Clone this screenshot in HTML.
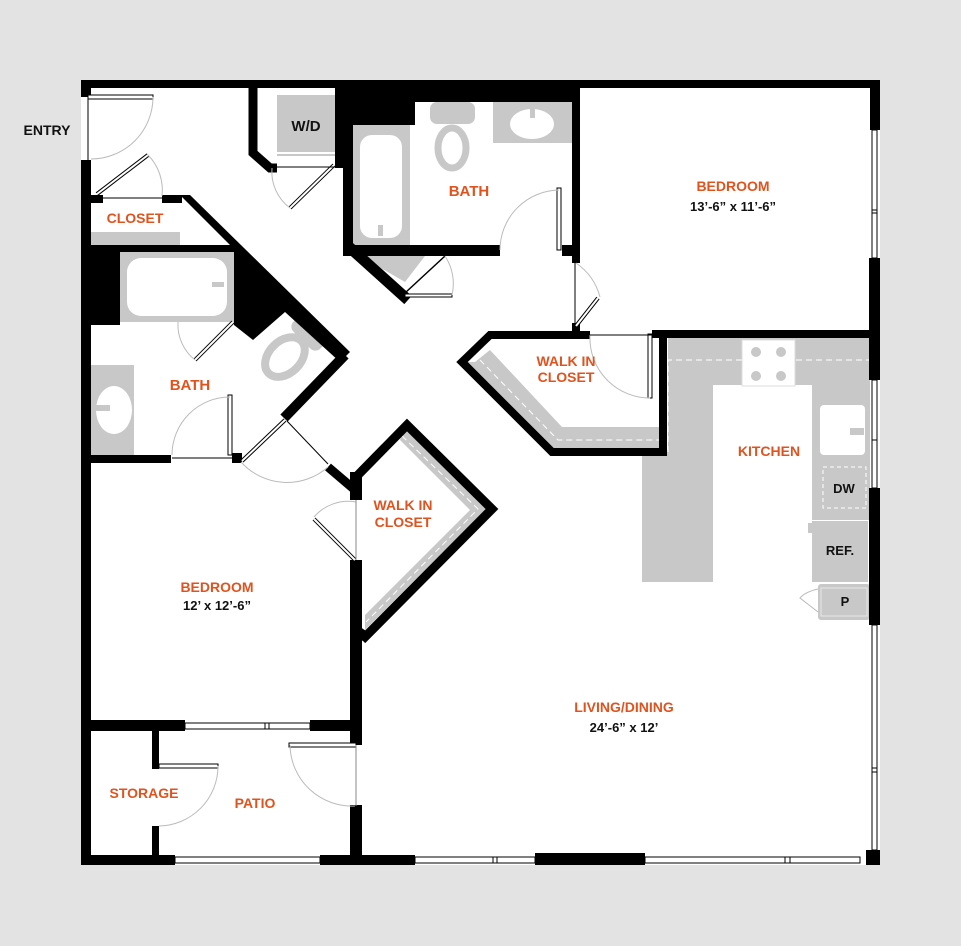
<!DOCTYPE html>
<html><head><meta charset="utf-8"><style>
html,body{margin:0;padding:0;background:#e3e3e3;}
svg{display:block}
.o{fill:#e0531f;font-family:"Liberation Sans",sans-serif;font-size:14px;font-weight:bold;text-anchor:middle}
.b{fill:#111;font-family:"Liberation Sans",sans-serif;font-size:13px;font-weight:bold;text-anchor:middle}
.w{stroke:#000;fill:none;stroke-linecap:butt;stroke-linejoin:miter}
.arc{stroke:#bbb;stroke-width:1;fill:none}
.leaf{fill:#fff;stroke:#000;stroke-width:1}
.g{fill:#c8c8c8}
</style></head><body>
<svg width="961" height="946" viewBox="0 0 961 946" xmlns="http://www.w3.org/2000/svg">
<rect x="0" y="0" width="961" height="946" fill="#e3e3e3"/>
<rect x="81" y="80" width="799" height="785" fill="#fff"/>

<rect class="g" x="91" y="232" width="89" height="13"/>
<rect class="g" x="120" y="252" width="114" height="70"/>
<rect x="127" y="258" width="100" height="58" rx="14" fill="#fff"/>
<rect class="g" x="212" y="282" width="12" height="5"/>
<rect class="g" x="91" y="365" width="43" height="90"/>
<ellipse cx="114" cy="410" rx="18" ry="24" fill="#fff"/>
<rect class="g" x="96" y="405" width="14" height="6"/>
<g transform="translate(292,350) rotate(45)"><ellipse cx="0" cy="10" rx="16" ry="23" fill="none" stroke="#c8c8c8" stroke-width="8"/><rect class="g" x="-19" y="-34" width="38" height="20" rx="7"/></g>
<rect class="g" x="277" y="95" width="58" height="57"/>
<line x1="277" y1="155" x2="335" y2="155" stroke="#c8c8c8" stroke-width="2"/>
<rect class="g" x="353" y="125" width="57" height="120"/>
<rect x="360" y="135" width="42" height="103" rx="12" fill="#fff"/>
<rect x="378" y="225" width="5" height="11" fill="#c8c8c8"/>
<rect class="g" x="430" y="102" width="45" height="22" rx="7"/>
<ellipse cx="452" cy="148" rx="14" ry="20" fill="none" stroke="#c8c8c8" stroke-width="7"/>
<rect class="g" x="493" y="102" width="79" height="41"/>
<ellipse cx="532" cy="124" rx="22" ry="15" fill="#fff"/>
<rect class="g" x="530" y="105" width="5" height="13"/>
<polygon class="g" points="360,256 425,256 405,282"/>
<polygon class="g" points="475,362 490,350 562,427 662,427 662,452 552,452 463,362"/>
<polyline points="480,360 558,440 662,440" fill="none" stroke="#fff" stroke-width="1" stroke-dasharray="6,4"/>
<polygon class="g" points="404,428 487,508 365,630 365,615 470,510 400,440"/>
<polyline points="402,436 478,509 366,622" fill="none" stroke="#fff" stroke-width="1" stroke-dasharray="6,4"/>

<rect class="g" x="668" y="338" width="202" height="47"/>
<rect class="g" x="668" y="338" width="45" height="112"/>
<rect class="g" x="642" y="450" width="71" height="132"/>
<rect class="g" x="812" y="385" width="58" height="135"/>
<polyline points="668,452 668,360 870,360" fill="none" stroke="#fff" stroke-width="1" stroke-dasharray="6,4"/>
<rect x="742" y="340" width="53" height="46" fill="#fff" stroke="#ddd"/>
<circle cx="756" cy="352" r="5" fill="#c8c8c8"/><circle cx="781" cy="352" r="5" fill="#c8c8c8"/>
<circle cx="756" cy="376" r="5" fill="#c8c8c8"/><circle cx="781" cy="376" r="5" fill="#c8c8c8"/>
<rect x="820" y="405" width="45" height="50" rx="4" fill="#fff"/>
<rect class="g" x="850" y="428" width="14" height="7"/>
<rect x="823" y="467" width="43" height="41" fill="none" stroke="#fff" stroke-dasharray="4,3"/>
<rect class="g" x="812" y="521" width="56" height="61"/>
<rect class="g" x="808" y="523" width="4" height="10"/>
<rect class="g" x="818" y="584" width="52" height="36" rx="3"/>
<rect x="821" y="588" width="46" height="28" fill="none" stroke="#e8e8e8"/>
<path d="M818,589 Q805,592 800,598 L818,612" class="arc"/>

<rect x="81" y="80" width="799" height="8" fill="#000"/>
<rect x="81" y="80" width="10" height="17" fill="#000"/>
<rect x="81" y="160" width="10" height="705" fill="#000"/>
<rect x="870" y="80" width="10" height="50" fill="#000"/>
<rect x="869" y="258" width="11" height="122" fill="#000"/>
<rect x="869" y="488" width="11" height="137" fill="#000"/>
<rect x="866" y="850" width="14" height="15" fill="#000"/>
<g fill="#fff" stroke="#000" stroke-width="1">
<rect x="872" y="130" width="5" height="128"/>
<rect x="872" y="380" width="5" height="108"/>
<rect x="872" y="625" width="5" height="225"/>
</g>
<g stroke="#000" stroke-width="1"><line x1="872" y1="213" x2="877" y2="213"/><line x1="872" y1="210" x2="877" y2="210"/><line x1="872" y1="440" x2="877" y2="440"/><line x1="872" y1="768" x2="877" y2="768"/><line x1="872" y1="772" x2="877" y2="772"/></g>
<rect x="81" y="855" width="94" height="10" fill="#000"/>
<rect x="320" y="855" width="95" height="10" fill="#000"/>
<rect x="535" y="853" width="110" height="12" fill="#000"/>
<g fill="#fff" stroke="#000" stroke-width="1">
<rect x="175" y="857" width="145" height="6"/>
<rect x="415" y="857" width="120" height="6"/>
<rect x="645" y="857" width="215" height="6"/>
<rect x="185" y="723" width="125" height="6"/>
</g>
<g stroke="#000" stroke-width="1"><line x1="493" y1="857" x2="493" y2="863"/><line x1="497" y1="857" x2="497" y2="863"/><line x1="785" y1="857" x2="785" y2="863"/><line x1="790" y1="857" x2="790" y2="863"/><line x1="265" y1="723" x2="265" y2="729"/><line x1="269" y1="723" x2="269" y2="729"/></g>

<rect x="91" y="195" width="12" height="8" fill="#000"/>
<rect x="162" y="195" width="20" height="8" fill="#000"/>
<rect x="91" y="245" width="143" height="7" fill="#000"/>
<rect x="91" y="245" width="29" height="80" fill="#000"/>
<polygon points="180,195 190,195 350,352 340,362 285,312 253,340 234,325 234,249" fill="#000"/>
<line class="w" x1="345" y1="355" x2="284" y2="418" stroke-width="10"/>
<rect x="91" y="455" width="80" height="8" fill="#000"/>
<rect x="232" y="453" width="10" height="10" fill="#000"/>
<polyline class="w" points="253,88 253,153 270,168 277,168" stroke-width="9"/>
<rect x="335" y="88" width="8" height="80" fill="#000"/>
<rect x="343" y="88" width="72" height="37" fill="#000"/>
<rect x="343" y="88" width="229" height="14" fill="#000"/>
<rect x="343" y="88" width="10" height="160" fill="#000"/>
<rect x="343" y="245" width="157" height="11" fill="#000"/>
<rect x="562" y="245" width="12" height="11" fill="#000"/>
<line class="w" x1="348" y1="246" x2="408" y2="300" stroke-width="11"/>
<rect x="572" y="80" width="8" height="183" fill="#000"/>
<rect x="572" y="323" width="8" height="10" fill="#000"/>
<rect x="652" y="330" width="228" height="8" fill="#000"/>
<polyline class="w" points="590,335 490,335 462,362 552,452 663,452 663,334" stroke-width="8"/>
<polyline class="w" points="355,478 407,425 492,509 362,640" stroke-width="9"/>
<line class="w" x1="328" y1="467" x2="355" y2="490" stroke-width="9"/>
<rect x="350" y="472" width="12" height="28" fill="#000"/>
<rect x="350" y="560" width="12" height="185" fill="#000"/>
<polygon points="350,620 372,635 350,648" fill="#000"/>
<rect x="81" y="720" width="104" height="11" fill="#000"/>
<rect x="310" y="720" width="52" height="11" fill="#000"/>
<rect x="152" y="731" width="7" height="38" fill="#000"/>
<rect x="152" y="826" width="7" height="30" fill="#000"/>
<rect x="350" y="805" width="12" height="52" fill="#000"/>

<rect class="leaf" x="88" y="95" width="65" height="4"/>
<path class="arc" d="M153,97 A62,62 0 0 1 91,159"/>
<line x1="88" y1="97" x2="88" y2="160" stroke="#000" stroke-width="1"/>
<line x1="97" y1="194" x2="148" y2="155" stroke="#000" stroke-width="4"/><line x1="97" y1="194" x2="148" y2="155" stroke="#fff" stroke-width="2"/>
<path class="arc" d="M148,155 A50,50 0 0 1 162,196"/>
<line x1="103" y1="198" x2="162" y2="198" stroke="#000" stroke-width="1"/>
<line x1="290" y1="208" x2="334" y2="165" stroke="#000" stroke-width="4"/><line x1="290" y1="208" x2="334" y2="165" stroke="#fff" stroke-width="2"/>
<path class="arc" d="M272,168 A45,45 0 0 0 290,208"/>
<line x1="277" y1="167" x2="335" y2="167" stroke="#000" stroke-width="1"/>
<rect class="leaf" x="557" y="188" width="4" height="62"/>
<path class="arc" d="M500,250 A60,60 0 0 1 559,190"/>
<line x1="405" y1="293" x2="445" y2="256" stroke="#000" stroke-width="1.5"/>
<rect class="leaf" x="405" y="294" width="47" height="3"/>
<path class="arc" d="M445,256 A50,50 0 0 1 452,295"/>
<line x1="576" y1="326" x2="598" y2="298" stroke="#000" stroke-width="4"/><line x1="576" y1="326" x2="598" y2="298" stroke="#fff" stroke-width="2"/>
<path class="arc" d="M576,263 A60,60 0 0 1 600,297"/>
<line x1="575" y1="263" x2="575" y2="325" stroke="#000" stroke-width="1"/>
<rect class="leaf" x="648" y="334" width="4" height="64"/>
<path class="arc" d="M590,335 A60,60 0 0 0 650,398"/>
<line x1="590" y1="335" x2="652" y2="335" stroke="#000" stroke-width="1"/>
<line x1="195" y1="360" x2="233" y2="322" stroke="#000" stroke-width="4"/><line x1="195" y1="360" x2="233" y2="322" stroke="#fff" stroke-width="2"/>
<path class="arc" d="M178,322 A45,45 0 0 0 195,360"/>
<rect class="leaf" x="228" y="395" width="4" height="60"/>
<path class="arc" d="M172,455 A58,58 0 0 1 230,397"/>
<line x1="172" y1="458" x2="232" y2="458" stroke="#000" stroke-width="1"/>
<line x1="242" y1="461" x2="285" y2="420" stroke="#000" stroke-width="4"/><line x1="242" y1="461" x2="285" y2="420" stroke="#fff" stroke-width="2"/>
<line x1="287" y1="421" x2="328" y2="464" stroke="#000" stroke-width="1"/>
<path class="arc" d="M241,462 A62,62 0 0 0 328,467"/>
<line x1="314" y1="519" x2="355" y2="560" stroke="#000" stroke-width="4"/><line x1="314" y1="519" x2="355" y2="560" stroke="#fff" stroke-width="2"/>
<path class="arc" d="M314,517 A45,45 0 0 1 356,502"/>
<line x1="356" y1="500" x2="356" y2="560" stroke="#888" stroke-width="1"/>
<rect class="leaf" x="159" y="764" width="59" height="4"/>
<path class="arc" d="M218,766 A60,60 0 0 1 159,826"/>
<rect class="leaf" x="289" y="743" width="67" height="4"/>
<path class="arc" d="M290,745 A62,62 0 0 0 355,806"/>
<line x1="356" y1="745" x2="356" y2="806" stroke="#888" stroke-width="1"/>

<text x="47" y="135" class="b" style="font-size:14px">ENTRY</text>
<text x="135" y="223" class="o">CLOSET</text>
<text x="306" y="131" class="b" style="font-size:15px">W/D</text>
<text x="469" y="196" class="o" style="font-size:15px">BATH</text>
<text x="733" y="191" class="o">BEDROOM</text>
<text x="733" y="211" class="b">13’-6” x 11’-6”</text>
<text x="190" y="390" class="o" style="font-size:15px">BATH</text>
<text x="566" y="366" class="o">WALK IN</text>
<text x="566" y="382" class="o">CLOSET</text>
<text x="769" y="456" class="o">KITCHEN</text>
<text x="844" y="493" class="b">DW</text>
<text x="840" y="555" class="b">REF.</text>
<text x="845" y="606" class="b">P</text>
<text x="403" y="510" class="o">WALK IN</text>
<text x="403" y="527" class="o">CLOSET</text>
<text x="217" y="592" class="o">BEDROOM</text>
<text x="217" y="610" class="b">12’ x 12’-6”</text>
<text x="624" y="712" class="o">LIVING/DINING</text>
<text x="624" y="732" class="b">24’-6” x 12’</text>
<text x="144" y="798" class="o">STORAGE</text>
<text x="255" y="808" class="o">PATIO</text>
</svg>
</body></html>
